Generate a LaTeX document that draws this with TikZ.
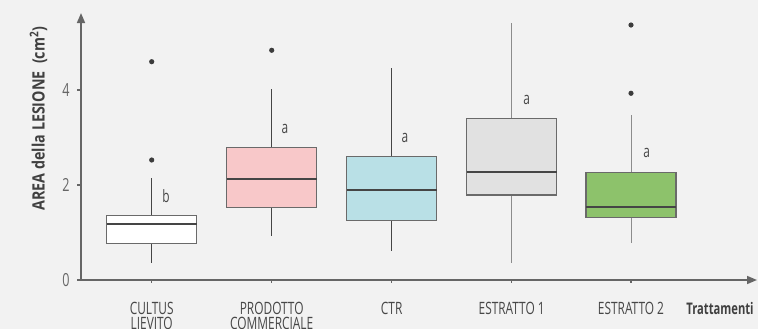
\documentclass[tikz,border=0pt]{standalone}
\usepackage{fontspec}
\setmainfont{Open Sans}[FakeStretch=0.7]
\newfontfamily\ylabfont{Open Sans}[FakeStretch=0.84]
\usepackage{tikz}
\usetikzlibrary{arrows.meta}
\definecolor{bg}{HTML}{F2F2F2}
\definecolor{axisgray}{HTML}{666666}
\definecolor{boxline}{HTML}{6A6A6A}
\definecolor{medline}{HTML}{454545}
\definecolor{txtgray}{HTML}{474747}
\definecolor{dotgray}{HTML}{3C3C3C}
\definecolor{pinkfill}{HTML}{F8C8C9}
\definecolor{bluefill}{HTML}{B9E0E6}
\definecolor{grayfill}{HTML}{E1E1E1}
\definecolor{greenfill}{HTML}{8DC26B}
% box at x=#3 : low whisker, q1, median, q3, high whisker
\def\boxplot[#1][#2](#3)(#4:#5:#6:#7:#8){%
  \draw[line width=1pt, color=#2] (#3,#4) -- (#3,#5);
  \draw[line width=1pt, color=#2] (#3,#7) -- (#3,#8);
  \draw[line width=1.3pt, color=boxline, fill=#1] ({#3-45},#5) rectangle ({#3+45},#7);
  \draw[line width=2.2pt, color=medline] ({#3-45},#6) -- ({#3+45},#6);}

\begin{document}
\begin{tikzpicture}[x=1pt, y=47.5pt]
			%%%%% START %%%%%
			\fill[bg] (0,-1.0316) rectangle (758,5.8947);
			\useasboundingbox (0,-1.0316) rectangle (758,5.8947);
			
			\coordinate (O) at (81,0);
			\coordinate (ytop) at (81,5.62);
			\coordinate (xend) at (757,0);
			
			% boxes
			\boxplot[white][medline](151.7)(0.358:0.764:1.185:1.354:2.147)
			\boxplot[pinkfill][medline](271.7)(0.933:1.522:2.126:2.794:4.015)
			\boxplot[bluefill][medline](391.7)(0.617:1.248:1.888:2.596:4.457)
			\boxplot[grayfill][black!45](511.7)(0.364:1.789:2.274:3.396:5.417)
			\boxplot[greenfill][black!45](631)(0.785:1.32:1.543:2.267:3.467)
			
			% outliers
			\fill[dotgray] (151.7,2.526) circle (2.6pt);
			\fill[dotgray] (151.7,4.596) circle (2.6pt);
			\fill[dotgray] (271.7,4.836) circle (2.6pt);
			\fill[dotgray] (631,3.931) circle (2.6pt);
			\fill[dotgray] (631,5.368) circle (2.6pt);
			
			% letters
			\node[color=txtgray, font=\fontsize{17}{17}\selectfont] (sig1) at (166,1.77) {b};
			\node[color=txtgray, font=\fontsize{17}{17}\selectfont] (sig2) at (285,3.18) {a};
			\node[color=txtgray, font=\fontsize{17}{17}\selectfont] (sig3) at (405,3.0) {a};
			\node[color=txtgray, font=\fontsize{17}{17}\selectfont] (sig4) at (526.7,3.78) {a};
			\node[color=txtgray, font=\fontsize{17}{17}\selectfont] (sig5) at (646.7,2.68) {a};
			
			% axes
			\draw[line width=1.6pt, color=axisgray, -{Triangle[width=8pt,length=10pt]}] (O) -- (ytop);
			\draw[line width=1.6pt, color=axisgray, -{Triangle[width=8pt,length=10pt]}] (O) -- (xend);
			\draw[line width=1.3pt, color=axisgray] (77,0) -- (81,0);
			\draw[line width=1.3pt, color=axisgray] (77,2) -- (81,2);
			\draw[line width=1.3pt, color=axisgray] (77,4) -- (81,4);
			\draw[line width=1.3pt, color=axisgray] (151.7,0) -- (151.7,-0.07);
			\draw[line width=1.3pt, color=axisgray] (271.7,0) -- (271.7,-0.07);
			\draw[line width=1.3pt, color=axisgray] (391.7,0) -- (391.7,-0.07);
			\draw[line width=1.3pt, color=axisgray] (511.7,0) -- (511.7,-0.07);
			\draw[line width=1.3pt, color=axisgray] (631,0) -- (631,-0.07);
			
			\node[color=black!60, font=\fontsize{18}{18}\selectfont] (t0) at (66,0) {0};
			\node[color=black!60, font=\fontsize{18}{18}\selectfont] (t2) at (66,2) {2};
			\node[color=black!60, font=\fontsize{18}{18}\selectfont] (t4) at (66,4) {4};
			
			% category names
			\node[color=txtgray, anchor=north, inner sep=0pt, align=center, font=\fontsize{17}{15.6}\selectfont] (c1) at (151.7,-0.46) {CULTUS\\LIEVITO};
			\node[color=txtgray, anchor=north, inner sep=0pt, align=center, font=\fontsize{17}{15.6}\selectfont] (c2) at (271.7,-0.46) {PRODOTTO\\COMMERCIALE};
			\node[color=txtgray, anchor=north, inner sep=0pt, align=center, font=\fontsize{17}{15.6}\selectfont] (c3) at (391.7,-0.46) {CTR};
			\node[color=txtgray, anchor=north, inner sep=0pt, align=center, font=\fontsize{17}{15.6}\selectfont] (c4) at (511.7,-0.46) {ESTRATTO 1};
			\node[color=txtgray, anchor=north, inner sep=0pt, align=center, font=\fontsize{17}{15.6}\selectfont] (c5) at (631,-0.46) {ESTRATTO 2};
			\node[color=black!75, anchor=north, inner sep=0pt, font=\bfseries\fontsize{16}{16}\selectfont] (xname) at (720,-0.46) {Trattamenti};
			
			\node[color=black!75, rotate=90, font=\ylabfont\bfseries\fontsize{17}{17}\selectfont] (yname) at (38.5,3.4) {AREA della LESIONE~ (cm\textsuperscript{2})};
			
			%%%%% END %%%%%
\end{tikzpicture}
\end{document}
